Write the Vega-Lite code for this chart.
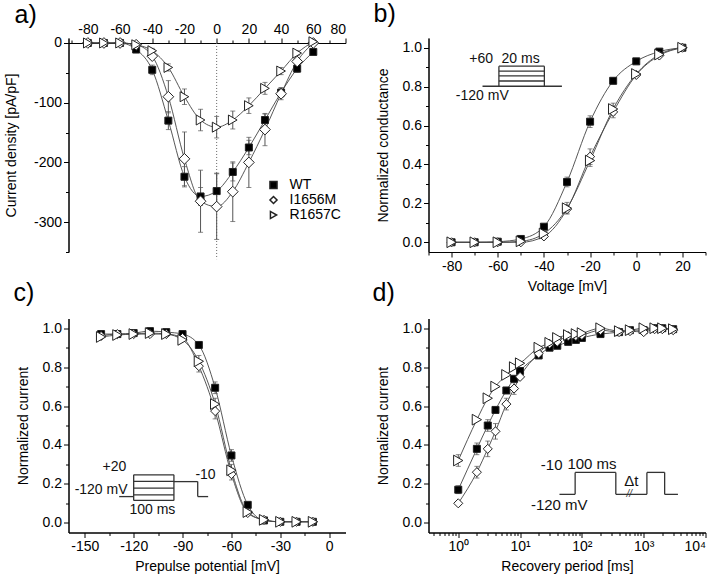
{
"$schema": "https://vega.github.io/schema/vega-lite/v6.json",
"background": "white",
"padding": {"left": 3.5, "top": 2, "right": 5, "bottom": 5},
"columns": 2,
"bounds": "flush",
"spacing": {"row": 66.5, "column": 83},
"resolve": {"scale": {"shape": "independent", "fill": "independent", "size": "independent"}, "legend": {"shape": "independent", "fill": "independent", "size": "independent"}},
"config": {
 "font": "Liberation Sans",
 "view": {"stroke": null},
 "axis": {"grid": false, "domainColor": "#000", "tickColor": "#000", "labelColor": "#000", "titleColor": "#000", "labelFontSize": 14, "titleFontSize": 14, "titleFontWeight": "normal", "labelFont": "Liberation Sans", "titleFont": "Liberation Sans", "tickSize": 5, "labelPadding": 2, "titlePadding": 6},
 "title": {"fontSize": 25, "fontWeight": "normal", "anchor": "start", "frame": "group", "font": "Liberation Sans", "color": "#000", "baseline": "alphabetic"},
 "legend": {"labelFont": "Liberation Sans"}
},
"datasets": {
 "a": [
  {"s":"WT","x":-80,"y":0,"e":0},{"s":"WT","x":-70,"y":0,"e":0},{"s":"WT","x":-60,"y":0,"e":0},{"s":"WT","x":-50,"y":-11,"e":3},{"s":"WT","x":-40,"y":-45,"e":8},{"s":"WT","x":-30,"y":-130,"e":15},{"s":"WT","x":-20,"y":-224,"e":17},{"s":"WT","x":-10,"y":-257,"e":15},{"s":"WT","x":0,"y":-248,"e":30},{"s":"WT","x":10,"y":-216,"e":15},{"s":"WT","x":20,"y":-175,"e":12},{"s":"WT","x":30,"y":-129,"e":10},{"s":"WT","x":40,"y":-83,"e":8},{"s":"WT","x":50,"y":-43,"e":6},{"s":"WT","x":60,"y":-15,"e":4},
  {"s":"I1656M","x":-80,"y":0,"e":0},{"s":"I1656M","x":-70,"y":0,"e":0},{"s":"I1656M","x":-60,"y":0,"e":0},{"s":"I1656M","x":-50,"y":-3,"e":0},{"s":"I1656M","x":-40,"y":-22,"e":5},{"s":"I1656M","x":-30,"y":-90,"e":27},{"s":"I1656M","x":-20,"y":-194,"e":45},{"s":"I1656M","x":-10,"y":-265,"e":52},{"s":"I1656M","x":0,"y":-274,"e":55},{"s":"I1656M","x":10,"y":-249,"e":50},{"s":"I1656M","x":20,"y":-200,"e":42},{"s":"I1656M","x":30,"y":-145,"e":27},{"s":"I1656M","x":40,"y":-85,"e":10},{"s":"I1656M","x":50,"y":-31,"e":5},{"s":"I1656M","x":60,"y":0,"e":0},
  {"s":"R1657C","x":-80,"y":0,"e":0},{"s":"R1657C","x":-70,"y":0,"e":0},{"s":"R1657C","x":-60,"y":0,"e":0},{"s":"R1657C","x":-50,"y":-3,"e":0},{"s":"R1657C","x":-40,"y":-13,"e":4},{"s":"R1657C","x":-30,"y":-41,"e":6},{"s":"R1657C","x":-20,"y":-90,"e":13},{"s":"R1657C","x":-10,"y":-129,"e":18},{"s":"R1657C","x":0,"y":-141,"e":18},{"s":"R1657C","x":10,"y":-129,"e":15},{"s":"R1657C","x":20,"y":-105,"e":13},{"s":"R1657C","x":30,"y":-76,"e":10},{"s":"R1657C","x":40,"y":-47,"e":6},{"s":"R1657C","x":50,"y":-17,"e":4},{"s":"R1657C","x":60,"y":2,"e":0}
 ],
 "b": [
  {"s":"WT","x":-80,"y":0,"e":0},{"s":"WT","x":-70,"y":0,"e":0},{"s":"WT","x":-60,"y":0.003,"e":0},{"s":"WT","x":-50,"y":0.017,"e":0},{"s":"WT","x":-40,"y":0.08,"e":0.01},{"s":"WT","x":-30,"y":0.31,"e":0.025},{"s":"WT","x":-20,"y":0.62,"e":0.03},{"s":"WT","x":-10,"y":0.83,"e":0.015},{"s":"WT","x":0,"y":0.93,"e":0},{"s":"WT","x":10,"y":0.98,"e":0},{"s":"WT","x":20,"y":1.0,"e":0},
  {"s":"I1656M","x":-80,"y":0,"e":0},{"s":"I1656M","x":-70,"y":0,"e":0},{"s":"I1656M","x":-60,"y":0,"e":0},{"s":"I1656M","x":-50,"y":0,"e":0},{"s":"I1656M","x":-40,"y":0.03,"e":0.01},{"s":"I1656M","x":-30,"y":0.17,"e":0.02},{"s":"I1656M","x":-20,"y":0.44,"e":0.04},{"s":"I1656M","x":-10,"y":0.67,"e":0.03},{"s":"I1656M","x":0,"y":0.86,"e":0},{"s":"I1656M","x":10,"y":0.96,"e":0},{"s":"I1656M","x":20,"y":1.0,"e":0},
  {"s":"R1657C","x":-80,"y":0,"e":0},{"s":"R1657C","x":-70,"y":0,"e":0},{"s":"R1657C","x":-60,"y":0,"e":0},{"s":"R1657C","x":-50,"y":0.005,"e":0},{"s":"R1657C","x":-40,"y":0.045,"e":0.01},{"s":"R1657C","x":-30,"y":0.175,"e":0.03},{"s":"R1657C","x":-20,"y":0.42,"e":0.03},{"s":"R1657C","x":-10,"y":0.685,"e":0.03},{"s":"R1657C","x":0,"y":0.865,"e":0},{"s":"R1657C","x":10,"y":0.965,"e":0},{"s":"R1657C","x":20,"y":1.0,"e":0}
 ],
 "c": [
  {"s":"WT","x":-140,"y":0.97,"e":0},{"s":"WT","x":-130,"y":0.97,"e":0},{"s":"WT","x":-120,"y":0.975,"e":0},{"s":"WT","x":-110,"y":0.985,"e":0},{"s":"WT","x":-100,"y":0.98,"e":0},{"s":"WT","x":-90,"y":0.97,"e":0},{"s":"WT","x":-80,"y":0.914,"e":0.01},{"s":"WT","x":-70,"y":0.694,"e":0.03},{"s":"WT","x":-60,"y":0.346,"e":0.03},{"s":"WT","x":-50,"y":0.092,"e":0},{"s":"WT","x":-40,"y":0.012,"e":0},{"s":"WT","x":-30,"y":0.005,"e":0},{"s":"WT","x":-20,"y":0.005,"e":0},{"s":"WT","x":-10,"y":0.005,"e":0},
  {"s":"I1656M","x":-140,"y":0.96,"e":0},{"s":"I1656M","x":-130,"y":0.97,"e":0},{"s":"I1656M","x":-120,"y":0.97,"e":0},{"s":"I1656M","x":-110,"y":0.97,"e":0},{"s":"I1656M","x":-100,"y":0.97,"e":0},{"s":"I1656M","x":-90,"y":0.95,"e":0},{"s":"I1656M","x":-80,"y":0.805,"e":0.03},{"s":"I1656M","x":-70,"y":0.574,"e":0.04},{"s":"I1656M","x":-60,"y":0.25,"e":0.03},{"s":"I1656M","x":-50,"y":0.05,"e":0},{"s":"I1656M","x":-40,"y":0.015,"e":0},{"s":"I1656M","x":-30,"y":0.005,"e":0},{"s":"I1656M","x":-20,"y":0.005,"e":0},{"s":"I1656M","x":-10,"y":0.005,"e":0},
  {"s":"R1657C","x":-140,"y":0.955,"e":0},{"s":"R1657C","x":-130,"y":0.965,"e":0},{"s":"R1657C","x":-120,"y":0.97,"e":0},{"s":"R1657C","x":-110,"y":0.975,"e":0},{"s":"R1657C","x":-100,"y":0.97,"e":0},{"s":"R1657C","x":-90,"y":0.94,"e":0},{"s":"R1657C","x":-80,"y":0.83,"e":0.03},{"s":"R1657C","x":-70,"y":0.61,"e":0.03},{"s":"R1657C","x":-60,"y":0.27,"e":0.03},{"s":"R1657C","x":-50,"y":0.055,"e":0},{"s":"R1657C","x":-40,"y":0.015,"e":0},{"s":"R1657C","x":-30,"y":0.005,"e":0},{"s":"R1657C","x":-20,"y":0.005,"e":0},{"s":"R1657C","x":-10,"y":0.005,"e":0}
 ],
 "d": [
  {"s":"WT","x":1,"y":0.17,"e":0.02},{"s":"WT","x":2,"y":0.38,"e":0.03},{"s":"WT","x":3,"y":0.5,"e":0.03},{"s":"WT","x":4,"y":0.58,"e":0},{"s":"WT","x":6,"y":0.68,"e":0},{"s":"WT","x":8,"y":0.74,"e":0},{"s":"WT","x":10,"y":0.78,"e":0},{"s":"WT","x":20,"y":0.86,"e":0},{"s":"WT","x":30,"y":0.9,"e":0},{"s":"WT","x":40,"y":0.91,"e":0},{"s":"WT","x":60,"y":0.93,"e":0},{"s":"WT","x":80,"y":0.94,"e":0},{"s":"WT","x":100,"y":0.95,"e":0},{"s":"WT","x":200,"y":0.97,"e":0},{"s":"WT","x":400,"y":0.98,"e":0},{"s":"WT","x":600,"y":0.99,"e":0},{"s":"WT","x":1000,"y":0.99,"e":0},{"s":"WT","x":1500,"y":1.0,"e":0},{"s":"WT","x":2000,"y":1.0,"e":0},{"s":"WT","x":3000,"y":0.995,"e":0},
  {"s":"I1656M","x":1,"y":0.1,"e":0},{"s":"I1656M","x":2,"y":0.26,"e":0.03},{"s":"I1656M","x":3,"y":0.38,"e":0.04},{"s":"I1656M","x":4,"y":0.47,"e":0.04},{"s":"I1656M","x":6,"y":0.61,"e":0.03},{"s":"I1656M","x":8,"y":0.69,"e":0.03},{"s":"I1656M","x":10,"y":0.75,"e":0},{"s":"I1656M","x":20,"y":0.87,"e":0},{"s":"I1656M","x":30,"y":0.92,"e":0},{"s":"I1656M","x":40,"y":0.93,"e":0},{"s":"I1656M","x":60,"y":0.96,"e":0},{"s":"I1656M","x":80,"y":0.96,"e":0},{"s":"I1656M","x":100,"y":0.965,"e":0},{"s":"I1656M","x":200,"y":0.99,"e":0},{"s":"I1656M","x":400,"y":0.98,"e":0},{"s":"I1656M","x":600,"y":0.985,"e":0},{"s":"I1656M","x":1000,"y":0.98,"e":0},{"s":"I1656M","x":1500,"y":0.995,"e":0},{"s":"I1656M","x":2000,"y":0.995,"e":0},{"s":"I1656M","x":3000,"y":0.99,"e":0},
  {"s":"R1657C","x":1,"y":0.32,"e":0.03},{"s":"R1657C","x":2,"y":0.53,"e":0},{"s":"R1657C","x":3,"y":0.64,"e":0},{"s":"R1657C","x":4,"y":0.7,"e":0},{"s":"R1657C","x":6,"y":0.76,"e":0},{"s":"R1657C","x":8,"y":0.8,"e":0},{"s":"R1657C","x":10,"y":0.82,"e":0},{"s":"R1657C","x":20,"y":0.9,"e":0},{"s":"R1657C","x":30,"y":0.925,"e":0},{"s":"R1657C","x":40,"y":0.95,"e":0},{"s":"R1657C","x":60,"y":0.965,"e":0},{"s":"R1657C","x":80,"y":0.97,"e":0},{"s":"R1657C","x":100,"y":0.975,"e":0},{"s":"R1657C","x":200,"y":1.0,"e":0},{"s":"R1657C","x":400,"y":0.985,"e":0},{"s":"R1657C","x":600,"y":0.99,"e":0},{"s":"R1657C","x":1000,"y":1.0,"e":0},{"s":"R1657C","x":1500,"y":1.0,"e":0},{"s":"R1657C","x":2000,"y":1.0,"e":0},{"s":"R1657C","x":3000,"y":0.995,"e":0}
 ],
 "bi": [
  {"x":-66.6,"y":0.802,"x2":-32.2,"y2":0.802},
  {"x":-59.5,"y":0.802,"x2":-59.5,"y2":0.905},
  {"x":-39.8,"y":0.802,"x2":-39.8,"y2":0.905},
  {"x":-59.5,"y":0.905,"x2":-39.8,"y2":0.905},
  {"x":-59.5,"y":0.880,"x2":-39.8,"y2":0.880},
  {"x":-59.5,"y":0.855,"x2":-39.8,"y2":0.855},
  {"x":-59.5,"y":0.829,"x2":-39.8,"y2":0.829}
 ],
 "bt": [
  {"x":-67.2,"y":0.944,"t":"+60"},{"x":-50.1,"y":0.944,"t":"20 ms"},{"x":-66.7,"y":0.752,"t":"-120 mV"}
 ],
 "ci": [
  {"x":-128.9,"y":0.1346,"x2":-120,"y2":0.1346},
  {"x":-120,"y":0.115,"x2":-120,"y2":0.2465},
  {"x":-95.3,"y":0.115,"x2":-95.3,"y2":0.2465},
  {"x":-120,"y":0.2465,"x2":-95.3,"y2":0.2465},
  {"x":-120,"y":0.2126,"x2":-95.3,"y2":0.2126},
  {"x":-120,"y":0.178,"x2":-95.3,"y2":0.178},
  {"x":-120,"y":0.1438,"x2":-95.3,"y2":0.1438},
  {"x":-120,"y":0.115,"x2":-95.3,"y2":0.115},
  {"x":-95.3,"y":0.2116,"x2":-80.7,"y2":0.2116},
  {"x":-80.7,"y":0.2116,"x2":-80.7,"y2":0.1346},
  {"x":-80.7,"y":0.1346,"x2":-74.3,"y2":0.1346}
 ],
 "ct": [
  {"x":-131.8,"y":0.286,"t":"+20"},{"x":-140,"y":0.168,"t":"-120 mV"},{"x":-108.5,"y":0.068,"t":"100 ms"},{"x":-75.9,"y":0.245,"t":"-10"}
 ],
 "di": [
  {"x":43.4,"y":0.146,"x2":77.8,"y2":0.146},
  {"x":77.8,"y":0.146,"x2":77.8,"y2":0.259},
  {"x":77.8,"y":0.259,"x2":354,"y2":0.259},
  {"x":354,"y":0.259,"x2":354,"y2":0.146},
  {"x":354,"y":0.146,"x2":1127,"y2":0.146},
  {"x":1127,"y":0.146,"x2":1127,"y2":0.259},
  {"x":1127,"y":0.259,"x2":2183,"y2":0.259},
  {"x":2183,"y":0.259,"x2":2183,"y2":0.146},
  {"x":2183,"y":0.146,"x2":3583,"y2":0.146}
 ],
 "dt": [
  {"x":32.5,"y":0.295,"t":"-10"},{"x":145.8,"y":0.303,"t":"100 ms"},{"x":632,"y":0.215,"t":"Δt"},{"x":43,"y":0.089,"t":"-120 mV"}
 ],
 "dk": [
  {"x":584,"y":0.146,"t":"//"}
 ]
},
"concat": [
 {
  "width": 277, "height": 214,
  "title": {"text": "a)", "dx": -54, "offset": 11, "dy": 17},
  "resolve": {"axis": {"x": "independent", "y": "independent"}},
  "layer": [
   {"data": {"name": "a"}, "mark": {"type": "line", "interpolate": "monotone", "color": "#444", "strokeWidth": 0.9},
    "encoding": {
     "x": {"field": "x", "type": "quantitative", "scale": {"domain": [-92, 80], "nice": false, "zero": false}, "axis": {"orient": "top", "offset": -5, "values": [-90,-70,-50,-30,-10,10,30,50,70], "labels": false, "tickSize": 3, "title": null}},
     "y": {"field": "y", "type": "quantitative", "scale": {"domain": [-350, 8.33], "nice": false, "zero": false}, "axis": {"orient": "left", "values": [-50,-150,-250,-350], "labels": false, "tickSize": 3, "title": null}},
     "detail": {"field": "s"}
    }},
   {"data": {"values": [{}]}, "mark": {"type": "rule", "color": "#666", "strokeDash": [1, 2], "strokeWidth": 1},
    "encoding": {"x": {"datum": 0, "type": "quantitative", "axis": null}, "y": {"datum": 0, "type": "quantitative", "axis": null}, "y2": {"datum": -362}}},
   {"data": {"name": "a"}, "transform": [{"filter": "datum.e > 0"}], "mark": {"type": "errorbar", "ticks": {"size": 5}, "color": "#555"},
    "encoding": {"x": {"field": "x", "type": "quantitative", "axis": null}, "y": {"field": "y", "type": "quantitative", "axis": null}, "yError": {"field": "e"}}},
   {"data": {"name": "a"}, "transform": [{"filter": "datum.s == 'WT'"}], "mark": {"type": "point", "filled": true, "stroke": "#222", "strokeWidth": 1, "opacity": 1, "size": 49},
    "encoding": {
     "x": {"field": "x", "type": "quantitative", "axis": {"orient": "top", "offset": -5, "values": [-80,-60,-40,-20,0,20,40,60,80], "title": null, "labelExpr": "replace(datum.label, '−', '-')"}},
     "y": {"field": "y", "type": "quantitative", "axis": {"orient": "left", "values": [0,-100,-200,-300], "title": "Current density [pA/pF]", "titlePadding": 15, "labelExpr": "replace(datum.label, '−', '-')"}},
     "shape": {"field": "s", "type": "nominal", "scale": {"domain": ["WT","I1656M","R1657C"], "range": ["square","diamond","triangle-right"]}, "legend": {"orient": "none", "legendX": 198, "legendY": 140, "title": null, "labelFontSize": 14, "symbolSize": 50, "rowPadding": 1, "labelOffset": 9, "padding": 0, "encode": {"symbols": {"update": {"stroke": {"value": "#222"}, "strokeWidth": {"value": 1}}}}}},
     "fill": {"field": "s", "type": "nominal", "scale": {"domain": ["WT","I1656M","R1657C"], "range": ["#000000","#ffffff","#ffffff"]}, "legend": {"orient": "none", "legendX": 198, "legendY": 140, "title": null, "labelFontSize": 14, "symbolSize": 50, "rowPadding": 1, "labelOffset": 9, "padding": 0, "encode": {"symbols": {"update": {"stroke": {"value": "#222"}, "strokeWidth": {"value": 1}}}}}}
    }},
   {"data": {"name": "a"}, "transform": [{"filter": "datum.s == 'I1656M'"}], "mark": {"type": "point", "filled": true, "stroke": "#222", "strokeWidth": 1, "opacity": 1, "size": 115},
    "encoding": {
     "x": {"field": "x", "type": "quantitative", "axis": null},
     "y": {"field": "y", "type": "quantitative", "axis": null},
     "shape": {"field": "s", "type": "nominal", "scale": {"domain": ["WT","I1656M","R1657C"], "range": ["square","diamond","triangle-right"]}, "legend": {"orient": "none", "legendX": 198, "legendY": 140, "title": null, "labelFontSize": 14, "symbolSize": 50, "rowPadding": 1, "labelOffset": 9, "padding": 0, "encode": {"symbols": {"update": {"stroke": {"value": "#222"}, "strokeWidth": {"value": 1}}}}}},
     "fill": {"field": "s", "type": "nominal", "scale": {"domain": ["WT","I1656M","R1657C"], "range": ["#000000","#ffffff","#ffffff"]}, "legend": {"orient": "none", "legendX": 198, "legendY": 140, "title": null, "labelFontSize": 14, "symbolSize": 50, "rowPadding": 1, "labelOffset": 9, "padding": 0, "encode": {"symbols": {"update": {"stroke": {"value": "#222"}, "strokeWidth": {"value": 1}}}}}}
    }},
   {"data": {"name": "a"}, "transform": [{"filter": "datum.s == 'R1657C'"}], "mark": {"type": "point", "filled": true, "stroke": "#222", "strokeWidth": 1, "opacity": 1, "size": 100},
    "encoding": {
     "x": {"field": "x", "type": "quantitative", "axis": null},
     "y": {"field": "y", "type": "quantitative", "axis": null},
     "shape": {"field": "s", "type": "nominal", "scale": {"domain": ["WT","I1656M","R1657C"], "range": ["square","diamond","triangle-right"]}, "legend": {"orient": "none", "legendX": 198, "legendY": 140, "title": null, "labelFontSize": 14, "symbolSize": 50, "rowPadding": 1, "labelOffset": 9, "padding": 0, "encode": {"symbols": {"update": {"stroke": {"value": "#222"}, "strokeWidth": {"value": 1}}}}}},
     "fill": {"field": "s", "type": "nominal", "scale": {"domain": ["WT","I1656M","R1657C"], "range": ["#000000","#ffffff","#ffffff"]}, "legend": {"orient": "none", "legendX": 198, "legendY": 140, "title": null, "labelFontSize": 14, "symbolSize": 50, "rowPadding": 1, "labelOffset": 9, "padding": 0, "encode": {"symbols": {"update": {"stroke": {"value": "#222"}, "strokeWidth": {"value": 1}}}}}}
    }}
  ]
 },
 {
  "width": 277, "height": 214,
  "title": {"text": "b)", "dx": -55, "offset": 11},
  "resolve": {"axis": {"x": "independent", "y": "independent"}},
  "layer": [
   {"data": {"name": "b"}, "mark": {"type": "line", "interpolate": "monotone", "color": "#444", "strokeWidth": 0.9},
    "encoding": {
     "x": {"field": "x", "type": "quantitative", "scale": {"domain": [-90, 30], "nice": false, "zero": false}, "axis": {"orient": "bottom", "values": [-90,-70,-50,-30,-10,10,30], "labels": false, "tickSize": 3, "title": null}},
     "y": {"field": "y", "type": "quantitative", "scale": {"domain": [-0.05, 1.05], "nice": false, "zero": false}, "axis": {"orient": "left", "values": [0.1,0.3,0.5,0.7,0.9], "labels": false, "tickSize": 3, "title": null}},
     "detail": {"field": "s"}
    }},
   {"data": {"name": "bi"}, "mark": {"type": "rule", "color": "#333", "strokeWidth": 1.3},
    "encoding": {"x": {"field": "x", "type": "quantitative", "axis": null}, "y": {"field": "y", "type": "quantitative", "axis": null}, "x2": {"field": "x2"}, "y2": {"field": "y2"}}},
   {"data": {"name": "bt"}, "mark": {"type": "text", "fontSize": 14, "color": "#111", "align": "center", "baseline": "middle"},
    "encoding": {"x": {"field": "x", "type": "quantitative", "axis": null}, "y": {"field": "y", "type": "quantitative", "axis": null}, "text": {"field": "t"}}},
   {"data": {"name": "b"}, "transform": [{"filter": "datum.e > 0"}], "mark": {"type": "errorbar", "ticks": {"size": 5}, "color": "#555"},
    "encoding": {"x": {"field": "x", "type": "quantitative", "axis": null}, "y": {"field": "y", "type": "quantitative", "axis": null}, "yError": {"field": "e"}}},
   {"data": {"name": "b"}, "mark": {"type": "point", "filled": true, "stroke": "#222", "strokeWidth": 1, "opacity": 1},
    "encoding": {
     "x": {"field": "x", "type": "quantitative", "axis": {"orient": "bottom", "values": [-80,-60,-40,-20,0,20], "title": "Voltage [mV]", "labelExpr": "replace(datum.label, '−', '-')"}},
     "y": {"field": "y", "type": "quantitative", "axis": {"orient": "left", "values": [0,0.2,0.4,0.6,0.8,1.0], "format": ".1f", "title": "Normalized conductance", "titlePadding": 12}},
     "shape": {"field": "s", "type": "nominal", "scale": {"domain": ["WT","I1656M","R1657C"], "range": ["square","diamond","triangle-right"]}, "legend": null},
     "fill": {"field": "s", "type": "nominal", "scale": {"domain": ["WT","I1656M","R1657C"], "range": ["#000000","#ffffff","#ffffff"]}, "legend": null},
     "size": {"field": "s", "type": "nominal", "scale": {"domain": ["WT","I1656M","R1657C"], "range": [49, 115, 100]}, "legend": null}
    }}
  ]
 },
 {
  "width": 277, "height": 214,
  "title": {"text": "c)", "dx": -55, "offset": 13},
  "resolve": {"axis": {"x": "independent", "y": "independent"}},
  "layer": [
   {"data": {"name": "c"}, "mark": {"type": "line", "interpolate": "monotone", "color": "#444", "strokeWidth": 0.9},
    "encoding": {
     "x": {"field": "x", "type": "quantitative", "scale": {"domain": [-160, 10], "nice": false, "zero": false}, "axis": {"orient": "bottom", "values": [-135,-105,-75,-45,-15], "labels": false, "tickSize": 3, "title": null}},
     "y": {"field": "y", "type": "quantitative", "scale": {"domain": [-0.05, 1.05], "nice": false, "zero": false}, "axis": {"orient": "left", "values": [0.1,0.3,0.5,0.7,0.9], "labels": false, "tickSize": 3, "title": null}},
     "detail": {"field": "s"}
    }},
   {"data": {"name": "ci"}, "mark": {"type": "rule", "color": "#333", "strokeWidth": 1.3},
    "encoding": {"x": {"field": "x", "type": "quantitative", "axis": null}, "y": {"field": "y", "type": "quantitative", "axis": null}, "x2": {"field": "x2"}, "y2": {"field": "y2"}}},
   {"data": {"name": "ct"}, "mark": {"type": "text", "fontSize": 14, "color": "#111", "align": "center", "baseline": "middle"},
    "encoding": {"x": {"field": "x", "type": "quantitative", "axis": null}, "y": {"field": "y", "type": "quantitative", "axis": null}, "text": {"field": "t"}}},
   {"data": {"name": "c"}, "transform": [{"filter": "datum.e > 0"}], "mark": {"type": "errorbar", "ticks": {"size": 5}, "color": "#555"},
    "encoding": {"x": {"field": "x", "type": "quantitative", "axis": null}, "y": {"field": "y", "type": "quantitative", "axis": null}, "yError": {"field": "e"}}},
   {"data": {"name": "c"}, "mark": {"type": "point", "filled": true, "stroke": "#222", "strokeWidth": 1, "opacity": 1},
    "encoding": {
     "x": {"field": "x", "type": "quantitative", "axis": {"orient": "bottom", "values": [-150,-120,-90,-60,-30,0], "title": "Prepulse potential [mV]", "labelExpr": "replace(datum.label, '−', '-')"}},
     "y": {"field": "y", "type": "quantitative", "axis": {"orient": "left", "values": [0,0.2,0.4,0.6,0.8,1.0], "format": ".1f", "title": "Normalized current", "titlePadding": 12}},
     "shape": {"field": "s", "type": "nominal", "scale": {"domain": ["WT","I1656M","R1657C"], "range": ["square","diamond","triangle-right"]}, "legend": null},
     "fill": {"field": "s", "type": "nominal", "scale": {"domain": ["WT","I1656M","R1657C"], "range": ["#000000","#ffffff","#ffffff"]}, "legend": null},
     "size": {"field": "s", "type": "nominal", "scale": {"domain": ["WT","I1656M","R1657C"], "range": [49, 115, 100]}, "legend": null}
    }}
  ]
 },
 {
  "width": 277, "height": 214,
  "title": {"text": "d)", "dx": -56, "offset": 13},
  "resolve": {"axis": {"x": "independent", "y": "independent"}},
  "layer": [
   {"data": {"name": "d"}, "mark": {"type": "line", "interpolate": "monotone", "color": "#444", "strokeWidth": 0.9},
    "encoding": {
     "x": {"field": "x", "type": "quantitative", "scale": {"type": "log", "domain": [0.33, 10000], "nice": false}, "axis": {"orient": "bottom", "values": [0.4,0.5,0.6,0.7,0.8,0.9,2,3,4,5,6,7,8,9,20,30,40,50,60,70,80,90,200,300,400,500,600,700,800,900,2000,3000,4000,5000,6000,7000,8000,9000], "labels": false, "tickSize": 3, "title": null}},
     "y": {"field": "y", "type": "quantitative", "scale": {"domain": [-0.05, 1.05], "nice": false, "zero": false}, "axis": {"orient": "left", "values": [0.1,0.3,0.5,0.7,0.9], "labels": false, "tickSize": 3, "title": null}},
     "detail": {"field": "s"}
    }},
   {"data": {"name": "di"}, "mark": {"type": "rule", "color": "#333", "strokeWidth": 1.3},
    "encoding": {"x": {"field": "x", "type": "quantitative", "axis": null}, "y": {"field": "y", "type": "quantitative", "axis": null}, "x2": {"field": "x2"}, "y2": {"field": "y2"}}},
   {"data": {"name": "dt"}, "mark": {"type": "text", "fontSize": 15, "color": "#111", "align": "center", "baseline": "middle"},
    "encoding": {"x": {"field": "x", "type": "quantitative", "axis": null}, "y": {"field": "y", "type": "quantitative", "axis": null}, "text": {"field": "t"}}},
   {"data": {"name": "dk"}, "mark": {"type": "text", "fontSize": 10, "fontStyle": "italic", "color": "#333", "align": "center", "baseline": "middle"},
    "encoding": {"x": {"field": "x", "type": "quantitative", "axis": null}, "y": {"field": "y", "type": "quantitative", "axis": null}, "text": {"field": "t"}}},
   {"data": {"name": "d"}, "transform": [{"filter": "datum.e > 0"}], "mark": {"type": "errorbar", "ticks": {"size": 5}, "color": "#555"},
    "encoding": {"x": {"field": "x", "type": "quantitative", "axis": null}, "y": {"field": "y", "type": "quantitative", "axis": null}, "yError": {"field": "e"}}},
   {"data": {"name": "d"}, "mark": {"type": "point", "filled": true, "stroke": "#222", "strokeWidth": 1, "opacity": 1},
    "encoding": {
     "x": {"field": "x", "type": "quantitative", "axis": {"orient": "bottom", "values": [1,10,100,1000,10000], "title": "Recovery period [ms]", "labelExpr": "datum.value == 1 ? '10⁰' : datum.value == 10 ? '10¹' : datum.value == 100 ? '10²' : datum.value == 1000 ? '10³' : '10⁴'"}},
     "y": {"field": "y", "type": "quantitative", "axis": {"orient": "left", "values": [0,0.2,0.4,0.6,0.8,1.0], "format": ".1f", "title": "Normalized current", "titlePadding": 12}},
     "shape": {"field": "s", "type": "nominal", "scale": {"domain": ["WT","I1656M","R1657C"], "range": ["square","diamond","triangle-right"]}, "legend": null},
     "fill": {"field": "s", "type": "nominal", "scale": {"domain": ["WT","I1656M","R1657C"], "range": ["#000000","#ffffff","#ffffff"]}, "legend": null},
     "size": {"field": "s", "type": "nominal", "scale": {"domain": ["WT","I1656M","R1657C"], "range": [49, 115, 100]}, "legend": null}
    }}
  ]
 }
]
}
